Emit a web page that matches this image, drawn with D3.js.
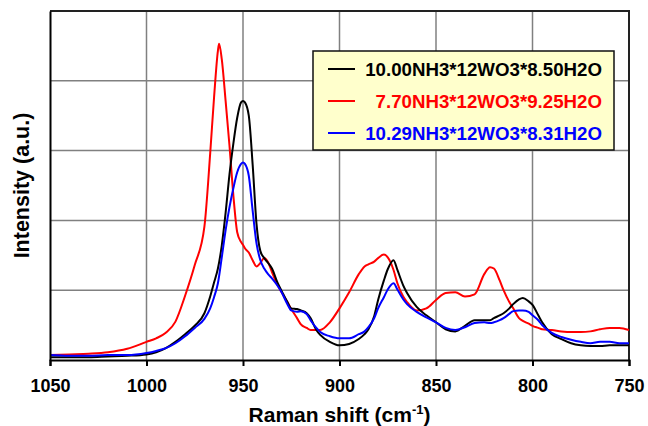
<!DOCTYPE html>
<html><head><meta charset="utf-8">
<script src="https://cdn.jsdelivr.net/npm/d3@7"></script>
<style>body{margin:0;background:#fff}svg{display:block}text{font-family:"Liberation Sans",Arial,sans-serif;font-weight:bold}</style>
</head><body><svg id="c" width="648" height="426"></svg>
<script>
const waveNumbers=[1050,1040,1030,1020,1010,1000,995,990,985,980,975,970,967,965,963,961,959,957,955,953,951,950,949,947,945,943,941,939,937,935,932,930,927,925,922,920,917,915,912,910,905,900,895,890,887,885,882,880,877,875,872,870,867,865,860,855,850,845,840,835,830,825,822,820,817,815,812,810,807,805,802,800,797,795,790,785,780,775,770,765,760,755,750];
const seriesBlack=[0.04,0.04,0.04,0.05,0.06,0.08,0.11,0.17,0.26,0.37,0.49,0.67,0.91,1.11,1.31,1.64,2.11,2.66,3.10,3.47,3.69,3.71,3.69,3.50,2.80,1.95,1.56,1.46,1.39,1.31,1.10,0.99,0.83,0.74,0.73,0.71,0.67,0.60,0.43,0.36,0.26,0.21,0.23,0.30,0.37,0.44,0.63,0.86,1.14,1.30,1.43,1.29,1.07,0.96,0.76,0.64,0.54,0.44,0.41,0.49,0.57,0.57,0.57,0.60,0.64,0.67,0.74,0.80,0.87,0.89,0.84,0.79,0.64,0.54,0.37,0.30,0.24,0.21,0.20,0.20,0.21,0.21,0.21];
const seriesRed=[0.07,0.08,0.09,0.11,0.16,0.26,0.31,0.39,0.55,0.92,1.36,1.91,2.96,3.76,4.43,4.31,3.71,3.07,2.36,1.83,1.69,1.65,1.60,1.54,1.43,1.34,1.39,1.46,1.40,1.26,1.07,0.97,0.83,0.73,0.60,0.51,0.46,0.43,0.43,0.43,0.54,0.74,0.97,1.23,1.34,1.37,1.41,1.46,1.51,1.47,1.29,1.10,0.91,0.83,0.71,0.74,0.86,0.96,0.97,0.91,0.94,1.23,1.33,1.31,1.14,1.00,0.83,0.74,0.60,0.56,0.52,0.49,0.46,0.44,0.43,0.41,0.40,0.40,0.41,0.44,0.46,0.46,0.43];
const seriesBlue=[0.07,0.06,0.06,0.07,0.07,0.10,0.13,0.17,0.24,0.34,0.46,0.59,0.74,0.90,1.10,1.47,1.86,2.19,2.46,2.69,2.81,2.83,2.81,2.64,2.14,1.67,1.43,1.31,1.23,1.17,1.06,0.97,0.80,0.71,0.69,0.70,0.66,0.57,0.46,0.40,0.34,0.31,0.31,0.37,0.41,0.47,0.60,0.74,0.90,1.01,1.10,1.01,0.87,0.80,0.69,0.61,0.54,0.46,0.43,0.47,0.53,0.54,0.53,0.54,0.57,0.60,0.66,0.70,0.71,0.71,0.69,0.64,0.57,0.50,0.39,0.33,0.29,0.26,0.24,0.26,0.26,0.24,0.24];
const redPeak={x:962.4,y:4.53};
const xTicks=[1050,1000,950,900,850,800,750];
const yGrid=[1,2,3,4];
const legendLabels=["10.00NH3*12WO3*8.50H2O","7.70NH3*12WO3*9.25H2O","10.29NH3*12WO3*8.31H2O"];
const colors=["#000000","#ff0000","#0000ff"];

const svg=d3.select("#c");
const L=50,R=629,T=11,B=360;
const x=d3.scaleLinear().domain([1050,750]).range([L,R]);
const y=d3.scaleLinear().domain([0,5]).range([B,T]);

// grid
svg.append("g").selectAll("line").data(xTicks.slice(1,-1)).join("line")
 .attr("x1",d=>x(d)).attr("x2",d=>x(d)).attr("y1",T).attr("y2",B)
 .attr("stroke","#808080").attr("stroke-width",1.5);
svg.append("g").selectAll("line").data(yGrid).join("line")
 .attr("x1",L).attr("x2",R).attr("y1",d=>y(d)).attr("y2",d=>y(d))
 .attr("stroke","#808080").attr("stroke-width",1.5);
// frame top/right
svg.append("path").attr("d",`M${L},${T}H${R}V${B}`).attr("fill","none").attr("stroke","#222").attr("stroke-width",2);

// curves
const redPts=waveNumbers.map((w,i)=>[w,seriesRed[i]]);
redPts.splice(15,0,[redPeak.x,redPeak.y]);
const data=[waveNumbers.map((w,i)=>[w,seriesBlack[i]]),redPts,waveNumbers.map((w,i)=>[w,seriesBlue[i]])];
const line=d3.line().x(d=>x(d[0])).y(d=>y(d[1])).curve(d3.curveMonotoneX);
const order=[1,0,2];
order.forEach(k=>{
 svg.append("path").datum(data[k]).attr("d",line).attr("fill","none")
  .attr("stroke",colors[k]).attr("stroke-width",2).attr("stroke-linejoin","round");
});

// axes
const xAxis=d3.axisBottom(x).tickValues(xTicks).tickSize(6).tickFormat(d3.format("d"));
const gx=svg.append("g").attr("transform",`translate(0,${B})`).call(xAxis);
gx.select(".domain").attr("stroke","#000").attr("stroke-width",2);
gx.selectAll(".tick line").attr("stroke","#000").attr("stroke-width",2);
gx.selectAll(".tick text").attr("font-size",18).attr("font-family","Liberation Sans, Arial").attr("font-weight","bold").attr("fill","#000").attr("y",32).attr("dy",0);
const gy=svg.append("g").attr("transform",`translate(${L},0)`).call(d3.axisLeft(y).tickValues([]).tickSize(0));
gy.select(".domain").attr("stroke","#000").attr("stroke-width",2);

// titles
const xt=svg.append("text").attr("x",(L+R)/2).attr("y",422).attr("text-anchor","middle").attr("font-size",21);
xt.append("tspan").text("Raman shift (cm");
xt.append("tspan").text("-1").attr("font-size",13).attr("dy",-8);
xt.append("tspan").text(")").attr("dy",8);
svg.append("text").attr("transform",`translate(29,${(T+B)/2}) rotate(-90)`).attr("text-anchor","middle").attr("font-size",21.5).text("Intensity (a.u.)");

// legend
const lg=svg.append("g");
lg.append("rect").attr("x",313).attr("y",51).attr("width",301).attr("height",99).attr("fill","#ffffcc").attr("stroke","#111").attr("stroke-width",1.5);
legendLabels.forEach((t,i)=>{
 const yy=69+i*32;
 lg.append("line").attr("x1",328).attr("x2",355).attr("y1",yy).attr("y2",yy).attr("stroke",colors[i]).attr("stroke-width",2);
 lg.append("text").attr("x",602).attr("y",yy+6.5).attr("text-anchor","end").attr("font-size",18.7).attr("fill",colors[i]).text(t);
});
</script></body></html>
